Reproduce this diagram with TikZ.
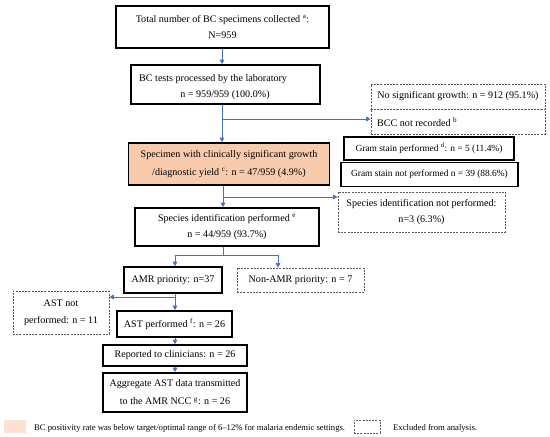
\documentclass[tikz,border=0pt]{standalone}
\usepackage{fontspec}
\setmainfont{Liberation Serif}
\usetikzlibrary{arrows.meta}
\definecolor{arrblue}{HTML}{4472C4}
\definecolor{peach}{HTML}{F8CBAD}
\definecolor{peachlt}{HTML}{FBE2D5}
\definecolor{dgray}{HTML}{595959}
\begin{document}
\begin{tikzpicture}[x=1pt,y=-1pt,
  boxfont/.style={font=\fontsize{10.1}{16.5}\selectfont},
  box/.style={draw=black, line width=1.6pt, inner sep=0pt, align=center, boxfont},
  xbox/.style={draw=dgray, line width=0.7pt, dash pattern=on 2pt off 1.2pt, inner sep=0pt, align=center, boxfont},
  arr/.style={draw=arrblue, line width=0.9pt, -{Triangle[length=4.5pt,width=4.5pt]}},
  link/.style={draw=arrblue, line width=0.9pt},
  txt/.style={inner sep=0pt, boxfont},
  gramfont/.style={font=\fontsize{9.4}{12}\selectfont},
  legtxt/.style={inner sep=0pt, font=\fontsize{8.65}{10}\selectfont}]
\useasboundingbox (0,0) rectangle (550,437);
\fill[white] (0,0) rectangle (550,437);
% x reference coordinates
\coordinate (c222) at (222,0);
\coordinate (c223) at (223,0);
\coordinate (c175) at (175,0);
\coordinate (c278) at (278,0);
% boxes
\node[box, minimum width=213pt, minimum height=42pt] (b1) at (222.5,27)
  {Total number of BC specimens collected \textsuperscript{a}:\\N=959};
\node[box, minimum width=189pt, minimum height=39pt] (b2) at (225.5,84.5) {};
\node[txt, anchor=west] (b2a) at (139,79) {BC tests processed by the laboratory};
\node[txt] (b2b) at (225,95) {n = 959/959 (100.0\%)};
\node[xbox, minimum width=174pt, minimum height=25pt] (ng1) at (458,96.5)
  {No significant growth: n = 912 (95.1\%)};
\node[xbox, minimum width=174pt, minimum height=25pt] (ng2) at (458,121.5) {};
\node[txt, anchor=west] (ng2t) at (377,122) {BCC not recorded \textsuperscript{b}};
\node[box, fill=peach, minimum width=201pt, minimum height=42pt, font=\fontsize{10.1}{18}\selectfont] (b3) at (229,164)
  {Specimen with clinically significant growth\\/diagnostic yield \textsuperscript{c}: n = 47/959 (4.9\%)};
\node[box, gramfont, minimum width=170pt, minimum height=23pt] (g1) at (429,148.5)
  {Gram stain performed \textsuperscript{d}: n = 5 (11.4\%)};
\node[box, gramfont, minimum width=177pt, minimum height=24pt] (g2) at (429.5,174.5)
  {Gram stain not performed n = 39 (88.6\%)};
\node[xbox, minimum width=167pt, minimum height=40pt] (spn) at (421.5,212)
  {Species identification not performed:\\n=3 (6.3\%)};
\node[box, minimum width=184pt, minimum height=38pt] (sp) at (227,227)
  {Species identification performed \textsuperscript{e}\\n = 44/959 (93.7\%)};
\node[box, minimum width=98pt, minimum height=26pt] (amr) at (173,280) {AMR priority: n=37};
\node[xbox, minimum width=127pt, minimum height=24pt] (namr) at (300.5,280) {Non-AMR priority: n = 7};
\node[xbox, minimum width=96pt, minimum height=43pt] (astn) at (61,312.5) {AST not\\performed: n = 11};
\node[box, minimum width=115pt, minimum height=26pt] (astp) at (174.5,324) {AST performed \textsuperscript{f}: n = 26};
\node[box, minimum width=144pt, minimum height=21pt] (rep) at (175,355.5) {Reported to clinicians: n = 26};
\node[box, minimum width=144pt, minimum height=39pt, font=\fontsize{10.1}{18}\selectfont] (agg) at (175,392.5)
  {Aggregate AST data transmitted\\to the AMR NCC \textsuperscript{g}: n = 26};
% connectors
\coordinate (j1) at (222,119);
\coordinate (j2) at (223,197);
\coordinate (j3) at (223,255);
\coordinate (j4) at (175,297);
\draw[arr] (b1.south -| c222) -- (b2.north -| c222);
\draw[arr] (b2.south -| c222) -- (b3.north -| c222);
\draw[arr] (j1) -- (ng2.west |- j1);
\draw[arr] (b3.south -| c223) -- (sp.north -| c223);
\draw[arr] (j2) -- (spn.west |- j2);
\draw[link] (sp.south -| c223) -- (j3);
\draw[arr] (j3) -| (amr.north -| c175);
\draw[arr] (j3) -| (namr.north -| c278);
\draw[arr] (amr.south -| c175) -- (astp.north -| c175);
\draw[arr] (j4) -- (astn.east |- j4);
\draw[arr] (astp.south -| c175) -- (rep.north -| c175);
\draw[arr] (rep.south -| c175) -- (agg.north -| c175);
% legend
\node[fill=peachlt, minimum width=22pt, minimum height=13pt, inner sep=0pt] (lg1) at (15,426.5) {};
\node[legtxt, anchor=west] (lg1t) at (34,428)
  {BC positivity rate was below target/optimal range of 6--12\% for malaria endemic settings.};
\node[xbox, minimum width=26pt, minimum height=13pt] (lg2) at (367,426.5) {};
\node[legtxt, anchor=west] (lg2t) at (393,428) {Excluded from analysis.};
\end{tikzpicture}
\end{document}
